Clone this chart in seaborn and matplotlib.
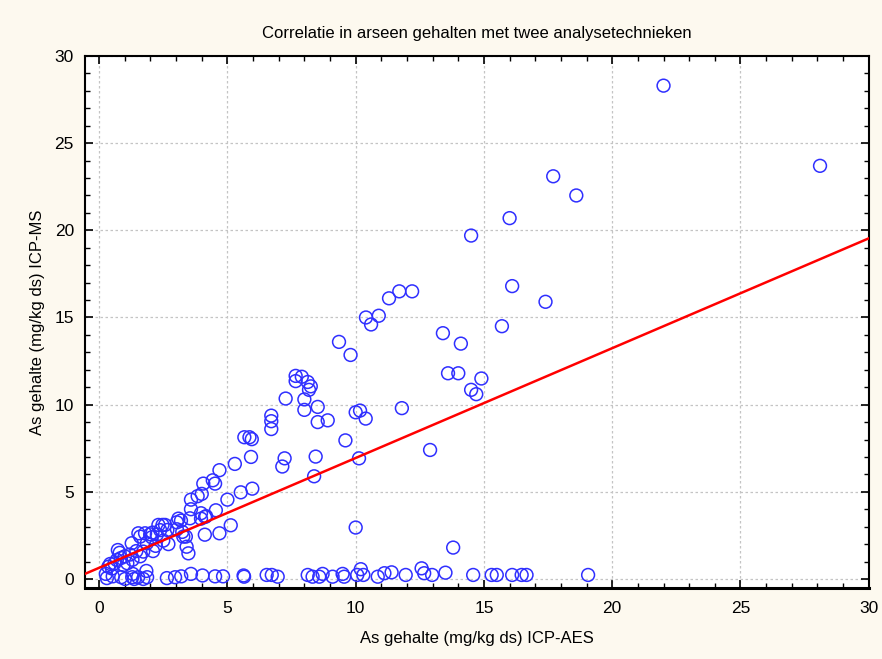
import numpy as np
import pandas as pd
import matplotlib
matplotlib.use("Agg")
import matplotlib.pyplot as plt
from matplotlib.ticker import MultipleLocator
import seaborn as sb

# As gehalte ICP-AES (x) en ICP-MS (y)
icp_aes = [
    22.0, 28.1, 17.7, 18.6, 16.0, 14.5, 16.1, 17.4, 11.7, 12.2, 11.3, 10.9, 10.4, 10.6,
    13.4, 15.7, 14.1, 9.35, 9.8, 13.6, 14.0, 14.9, 14.5, 14.7, 11.8, 12.9, 13.8, 10.0,
    7.66, 7.9, 7.66, 8.13, 8.25, 8.18, 7.27, 8.0, 8.52, 8.0, 8.52, 8.91, 10.0, 10.17,
    10.39, 9.6, 10.13, 8.44, 7.23, 7.14, 8.38,
    6.71, 6.71, 6.71, 5.66, 5.86, 5.95, 5.92, 5.29, 4.69, 4.43, 4.52, 4.06, 4.0, 3.84,
    3.58, 5.52, 5.97, 5.0, 3.58, 4.55, 3.97, 4.13, 3.97, 4.17, 5.13, 4.12, 4.69,
    3.41, 3.48, 3.38, 3.54,
    0.26, 0.36, 0.43, 0.5, 0.6, 0.73, 0.69, 0.85, 0.95, 1.0, 1.2, 1.3, 1.27, 1.45,
    1.53, 1.6, 1.6, 1.72, 1.79, 1.86, 1.99, 2.05, 2.1, 2.2, 2.31, 2.38, 2.57, 2.5,
    2.7, 3.03, 3.09, 3.19, 3.03, 3.24, 3.28, 2.08, 2.25, 2.47, 2.66, 1.1, 0.8,
    0.3, 0.53, 0.86, 1.01, 1.29, 1.31, 1.37, 1.52, 1.72, 1.84, 1.87, 2.64, 2.96, 3.2,
    3.58, 4.03, 4.52, 4.83, 5.63, 5.65, 6.53, 6.73, 6.96, 8.13, 8.32, 8.58, 8.71, 9.1,
    9.49, 9.55, 10.06, 10.2, 10.3, 10.86, 11.12, 11.4, 11.95, 12.57, 12.67, 12.98, 13.5,
    14.58, 15.3, 15.5, 16.1, 16.47, 16.66, 19.06,
]
icp_ms = [
    28.3, 23.7, 23.1, 22.0, 20.7, 19.7, 16.8, 15.9, 16.5, 16.5, 16.1, 15.1, 15.0, 14.6,
    14.1, 14.5, 13.5, 13.6, 12.85, 11.8, 11.8, 11.5, 10.85, 10.6, 9.8, 7.4, 1.8, 2.95,
    11.65, 11.6, 11.35, 11.3, 11.05, 10.85, 10.35, 10.3, 9.87, 9.7, 9.0, 9.1, 9.56, 9.66,
    9.2, 7.95, 6.92, 7.02, 6.92, 6.45, 5.89,
    9.37, 9.05, 8.6, 8.13, 8.13, 8.02, 7.0, 6.6, 6.24, 5.66, 5.47, 5.47, 4.88, 4.75,
    4.55, 4.97, 5.18, 4.55, 4.0, 3.94, 3.77, 3.56, 3.46, 3.6, 3.08, 2.54, 2.62,
    1.85, 1.47, 2.43, 3.48,
    0.29, 0.7, 0.86, 0.6, 0.9, 1.66, 1.09, 1.2, 0.8, 1.3, 1.4, 1.1, 2.05, 1.6,
    2.62, 2.43, 1.3, 1.57, 2.62, 2.05, 2.56, 2.39, 1.6, 1.9, 3.1, 2.8, 3.1, 2.2,
    2.0, 3.25, 3.46, 3.35, 2.85, 2.7, 2.43, 2.66, 2.55, 3.1, 2.81, 0.9, 1.5,
    0.05, 0.15, 0.1, 0.0, 0.1, 0.29, 0.0, 0.1, 0.0, 0.46, 0.1, 0.05, 0.1, 0.15,
    0.29, 0.2, 0.15, 0.15, 0.2, 0.13, 0.23, 0.23, 0.13, 0.23, 0.13, 0.13, 0.29, 0.13,
    0.29, 0.13, 0.23, 0.56, 0.23, 0.13, 0.33, 0.38, 0.23, 0.61, 0.33, 0.23, 0.36,
    0.23, 0.23, 0.23, 0.23, 0.23, 0.23, 0.23,
]

fit_slope = 0.63
fit_intercept = 0.64

df = pd.DataFrame({"aes": icp_aes, "ms": icp_ms})

plt.rcParams["font.family"] = ["Liberation Sans", "DejaVu Sans"]

fig = plt.figure(figsize=(8.82, 6.59), dpi=100, facecolor="#fdf9ef")
ax = fig.add_axes([0.0964, 0.1077, 0.8886, 0.8073])
ax.set_facecolor("white")

xlim = (-0.55, 30)
ylim = (-0.52, 30)

sb.scatterplot(data=df, x="aes", y="ms", ax=ax, marker="o", s=85,
               edgecolor="#2f2fff", linewidth=1.1, zorder=3)
ax.collections[0].set_facecolor("none")

fit_x = np.array(xlim)
ax.plot(fit_x, fit_intercept + fit_slope * fit_x, color="#ff0000", lw=1.8, zorder=4)

ax.set_xlim(*xlim)
ax.set_ylim(*ylim)
ax.xaxis.set_major_locator(MultipleLocator(5))
ax.yaxis.set_major_locator(MultipleLocator(5))
ax.xaxis.set_minor_locator(MultipleLocator(1))
ax.yaxis.set_minor_locator(MultipleLocator(1))
ax.tick_params(which="both", direction="in", top=True, right=True, color="black")
ax.tick_params(which="major", length=6, width=1.2, labelsize=12.5)
ax.tick_params(which="minor", length=3.5, width=1)
ax.tick_params(axis="x", which="major", pad=9)
ax.tick_params(axis="y", which="major", pad=8)
ax.grid(True, which="major", color="#c4c4c4", linestyle=(0, (2, 2)), linewidth=0.9, zorder=0)
ax.set_axisbelow(True)

for side in ["left", "right", "top"]:
    ax.spines[side].set_linewidth(1.5)
ax.spines["bottom"].set_linewidth(2.2)

ax.set_xlabel("As gehalte (mg/kg ds) ICP-AES", fontsize=12, labelpad=11)
ax.set_ylabel("As gehalte (mg/kg ds) ICP-MS", fontsize=12, labelpad=7)
ax.set_title("Correlatie in arseen gehalten met twee analysetechnieken",
             fontsize=12, pad=13)

fig.savefig("out.png", dpi=100, facecolor=fig.get_facecolor())
